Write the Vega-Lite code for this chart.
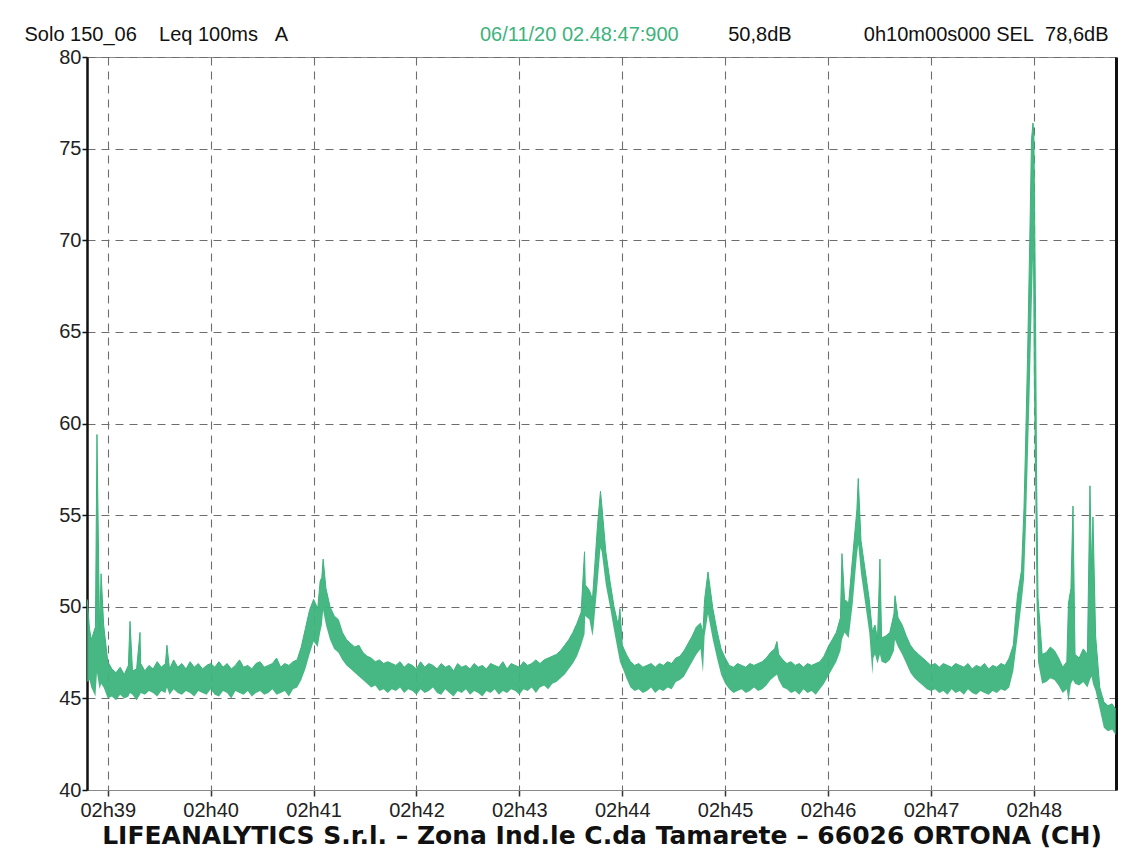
{
  "$schema": "https://vega.github.io/schema/vega-lite/v6.json",
  "width": 1029,
  "height": 733,
  "autosize": {"type": "none"},
  "padding": {"left": 87, "top": 57, "right": 5, "bottom": 64},
  "background": "white",
  "config": {"font": "Liberation Sans", "view": {"stroke": "#8a8a8a", "strokeWidth": 1}},
  "title": {
    "text": "06/11/20 02.48:47:900",
    "anchor": "start",
    "frame": "group",
    "dx": 393,
    "dy": 27,
    "offset": 6,
    "font": "Liberation Sans",
    "fontSize": 20,
    "fontWeight": "normal",
    "color": "#3db37d"
  },
  "data": {"values": [
    {"t":38.800,"lo":45.9,"hi":50.4},{"t":38.822,"lo":46.0,"hi":48.8},{"t":38.840,"lo":45.6,"hi":48.2},{"t":38.880,"lo":45.1,"hi":48.9},
    {"t":38.895,"lo":46.4,"hi":59.4},{"t":38.920,"lo":45.5,"hi":48.6},{"t":38.935,"lo":45.8,"hi":51.8},{"t":38.960,"lo":45.6,"hi":49.0},
    {"t":39.000,"lo":45.0,"hi":47.0},{"t":39.040,"lo":45.1,"hi":46.6},{"t":39.080,"lo":44.9,"hi":46.4},{"t":39.120,"lo":45.2,"hi":46.7},
    {"t":39.160,"lo":45.0,"hi":46.3},{"t":39.200,"lo":45.1,"hi":46.8},{"t":39.216,"lo":45.3,"hi":49.2},{"t":39.240,"lo":45.2,"hi":46.5},
    {"t":39.280,"lo":44.9,"hi":46.6},{"t":39.313,"lo":45.2,"hi":48.6},{"t":39.320,"lo":45.3,"hi":46.9},{"t":39.360,"lo":45.2,"hi":46.5},
    {"t":39.400,"lo":45.4,"hi":46.8},{"t":39.440,"lo":45.3,"hi":46.6},{"t":39.480,"lo":45.1,"hi":47.0},{"t":39.520,"lo":45.4,"hi":46.7},
    {"t":39.560,"lo":45.3,"hi":46.9},{"t":39.575,"lo":45.6,"hi":47.9},{"t":39.600,"lo":45.2,"hi":46.6},{"t":39.640,"lo":45.5,"hi":47.1},
    {"t":39.680,"lo":45.3,"hi":46.7},{"t":39.720,"lo":45.2,"hi":46.9},{"t":39.760,"lo":45.4,"hi":46.6},{"t":39.800,"lo":45.3,"hi":47.0},
    {"t":39.840,"lo":45.1,"hi":46.7},{"t":39.880,"lo":45.4,"hi":46.9},{"t":39.920,"lo":45.3,"hi":46.6},{"t":39.960,"lo":45.2,"hi":46.8},
    {"t":40.000,"lo":45.5,"hi":46.9},{"t":40.040,"lo":45.2,"hi":46.7},{"t":40.080,"lo":45.1,"hi":47.0},{"t":40.120,"lo":45.4,"hi":46.7},
    {"t":40.160,"lo":45.3,"hi":46.9},{"t":40.200,"lo":45.0,"hi":46.6},{"t":40.240,"lo":45.4,"hi":46.8},{"t":40.280,"lo":45.3,"hi":47.1},
    {"t":40.320,"lo":45.2,"hi":46.7},{"t":40.360,"lo":45.4,"hi":46.8},{"t":40.400,"lo":45.1,"hi":46.6},{"t":40.440,"lo":45.3,"hi":46.9},
    {"t":40.480,"lo":45.4,"hi":47.0},{"t":40.520,"lo":45.2,"hi":46.7},{"t":40.560,"lo":45.3,"hi":46.8},{"t":40.600,"lo":45.5,"hi":46.9},
    {"t":40.640,"lo":45.2,"hi":47.2},{"t":40.680,"lo":45.3,"hi":46.7},{"t":40.720,"lo":45.4,"hi":46.9},{"t":40.760,"lo":45.1,"hi":46.8},
    {"t":40.800,"lo":45.5,"hi":47.0},{"t":40.840,"lo":45.6,"hi":47.1},{"t":40.880,"lo":46.0,"hi":47.8},{"t":40.920,"lo":46.6,"hi":48.8},
    {"t":40.960,"lo":47.4,"hi":49.8},{"t":41.000,"lo":48.1,"hi":50.4},{"t":41.040,"lo":47.8,"hi":49.9},{"t":41.064,"lo":48.6,"hi":51.4},
    {"t":41.080,"lo":49.0,"hi":51.6},{"t":41.093,"lo":49.8,"hi":52.6},{"t":41.120,"lo":49.0,"hi":51.0},{"t":41.160,"lo":48.2,"hi":50.0},
    {"t":41.200,"lo":47.7,"hi":49.5},{"t":41.240,"lo":47.5,"hi":49.3},{"t":41.280,"lo":47.1,"hi":48.6},{"t":41.320,"lo":46.8,"hi":48.2},
    {"t":41.360,"lo":46.6,"hi":48.0},{"t":41.400,"lo":46.4,"hi":47.8},{"t":41.440,"lo":46.2,"hi":47.9},{"t":41.480,"lo":46.0,"hi":47.5},
    {"t":41.520,"lo":45.8,"hi":47.3},{"t":41.560,"lo":45.6,"hi":47.2},{"t":41.600,"lo":45.7,"hi":47.0},{"t":41.640,"lo":45.4,"hi":47.1},
    {"t":41.680,"lo":45.5,"hi":46.9},{"t":41.720,"lo":45.3,"hi":47.0},{"t":41.760,"lo":45.5,"hi":46.9},{"t":41.800,"lo":45.4,"hi":46.8},
    {"t":41.840,"lo":45.6,"hi":47.0},{"t":41.880,"lo":45.3,"hi":46.7},{"t":41.920,"lo":45.5,"hi":46.9},{"t":41.960,"lo":45.4,"hi":46.8},
    {"t":42.000,"lo":45.2,"hi":46.6},{"t":42.040,"lo":45.5,"hi":47.0},{"t":42.080,"lo":45.3,"hi":46.7},{"t":42.120,"lo":45.4,"hi":46.9},
    {"t":42.160,"lo":45.6,"hi":46.8},{"t":42.200,"lo":45.3,"hi":46.6},{"t":42.240,"lo":45.2,"hi":46.9},{"t":42.280,"lo":45.5,"hi":46.7},
    {"t":42.320,"lo":45.3,"hi":46.8},{"t":42.360,"lo":45.1,"hi":46.5},{"t":42.400,"lo":45.4,"hi":46.9},{"t":42.440,"lo":45.3,"hi":46.7},
    {"t":42.480,"lo":45.5,"hi":46.8},{"t":42.520,"lo":45.2,"hi":46.6},{"t":42.560,"lo":45.4,"hi":46.9},{"t":42.600,"lo":45.3,"hi":46.7},
    {"t":42.640,"lo":45.1,"hi":46.8},{"t":42.680,"lo":45.4,"hi":46.6},{"t":42.720,"lo":45.3,"hi":46.9},{"t":42.760,"lo":45.5,"hi":46.8},
    {"t":42.800,"lo":45.2,"hi":46.7},{"t":42.840,"lo":45.4,"hi":47.0},{"t":42.880,"lo":45.3,"hi":46.6},{"t":42.920,"lo":45.5,"hi":46.9},
    {"t":42.960,"lo":45.4,"hi":46.8},{"t":43.000,"lo":45.2,"hi":46.7},{"t":43.040,"lo":45.5,"hi":47.0},{"t":43.080,"lo":45.4,"hi":46.8},
    {"t":43.120,"lo":45.6,"hi":46.9},{"t":43.160,"lo":45.3,"hi":47.1},{"t":43.200,"lo":45.6,"hi":46.9},{"t":43.240,"lo":45.7,"hi":47.1},
    {"t":43.280,"lo":45.5,"hi":47.2},{"t":43.320,"lo":45.8,"hi":47.3},{"t":43.360,"lo":45.9,"hi":47.4},{"t":43.400,"lo":46.1,"hi":47.6},
    {"t":43.440,"lo":46.3,"hi":47.9},{"t":43.480,"lo":46.6,"hi":48.2},{"t":43.520,"lo":46.9,"hi":48.6},{"t":43.560,"lo":47.3,"hi":49.1},
    {"t":43.600,"lo":47.9,"hi":49.7},{"t":43.633,"lo":48.5,"hi":53.0},{"t":43.640,"lo":49.5,"hi":51.2},{"t":43.680,"lo":49.3,"hi":50.9},
    {"t":43.710,"lo":48.4,"hi":50.4},{"t":43.720,"lo":48.8,"hi":51.2},{"t":43.760,"lo":51.3,"hi":54.5},{"t":43.788,"lo":53.2,"hi":56.3},
    {"t":43.800,"lo":53.0,"hi":55.6},{"t":43.840,"lo":51.2,"hi":53.0},{"t":43.880,"lo":50.0,"hi":51.4},{"t":43.920,"lo":48.7,"hi":50.0},
    {"t":43.960,"lo":47.5,"hi":49.0},{"t":43.977,"lo":47.0,"hi":49.9},{"t":44.000,"lo":46.7,"hi":47.9},{"t":44.040,"lo":46.1,"hi":47.4},
    {"t":44.080,"lo":45.6,"hi":47.0},{"t":44.120,"lo":45.4,"hi":46.8},{"t":44.160,"lo":45.5,"hi":46.9},{"t":44.200,"lo":45.3,"hi":46.7},
    {"t":44.240,"lo":45.4,"hi":46.8},{"t":44.280,"lo":45.6,"hi":46.9},{"t":44.320,"lo":45.3,"hi":46.7},{"t":44.360,"lo":45.5,"hi":46.9},
    {"t":44.400,"lo":45.4,"hi":46.8},{"t":44.440,"lo":45.6,"hi":47.0},{"t":44.480,"lo":45.5,"hi":46.9},{"t":44.520,"lo":45.9,"hi":47.2},
    {"t":44.560,"lo":46.0,"hi":47.3},{"t":44.600,"lo":46.2,"hi":47.6},{"t":44.640,"lo":46.6,"hi":48.0},{"t":44.680,"lo":47.0,"hi":48.4},
    {"t":44.720,"lo":47.4,"hi":48.9},{"t":44.760,"lo":47.7,"hi":49.1},{"t":44.784,"lo":46.4,"hi":48.6},{"t":44.800,"lo":48.4,"hi":50.4},
    {"t":44.833,"lo":49.6,"hi":51.9},{"t":44.840,"lo":49.4,"hi":51.6},{"t":44.880,"lo":48.2,"hi":49.9},{"t":44.920,"lo":47.2,"hi":48.7},
    {"t":44.960,"lo":46.3,"hi":47.7},{"t":45.000,"lo":45.8,"hi":47.2},{"t":45.040,"lo":45.5,"hi":46.8},{"t":45.080,"lo":45.3,"hi":46.7},
    {"t":45.120,"lo":45.4,"hi":46.9},{"t":45.160,"lo":45.5,"hi":46.8},{"t":45.200,"lo":45.3,"hi":46.7},{"t":45.240,"lo":45.4,"hi":46.9},
    {"t":45.280,"lo":45.6,"hi":46.8},{"t":45.320,"lo":45.4,"hi":46.9},{"t":45.360,"lo":45.5,"hi":47.0},{"t":45.400,"lo":45.7,"hi":47.2},
    {"t":45.440,"lo":46.0,"hi":47.5},{"t":45.480,"lo":46.2,"hi":47.7},{"t":45.503,"lo":46.3,"hi":48.1},{"t":45.520,"lo":46.0,"hi":47.4},
    {"t":45.560,"lo":45.6,"hi":47.1},{"t":45.600,"lo":45.5,"hi":46.9},{"t":45.640,"lo":45.3,"hi":47.0},{"t":45.680,"lo":45.4,"hi":46.8},
    {"t":45.720,"lo":45.2,"hi":46.9},{"t":45.760,"lo":45.5,"hi":46.7},{"t":45.800,"lo":45.3,"hi":46.9},{"t":45.840,"lo":45.4,"hi":46.8},
    {"t":45.880,"lo":45.2,"hi":46.9},{"t":45.920,"lo":45.5,"hi":47.0},{"t":45.960,"lo":45.8,"hi":47.3},{"t":46.000,"lo":46.2,"hi":47.8},
    {"t":46.040,"lo":46.6,"hi":48.2},{"t":46.080,"lo":47.0,"hi":48.6},{"t":46.120,"lo":47.6,"hi":49.4},{"t":46.135,"lo":48.2,"hi":52.9},
    {"t":46.160,"lo":48.6,"hi":50.4},{"t":46.200,"lo":48.3,"hi":50.2},{"t":46.240,"lo":50.2,"hi":52.8},{"t":46.280,"lo":52.8,"hi":55.3},
    {"t":46.293,"lo":53.4,"hi":57.0},{"t":46.320,"lo":51.8,"hi":53.6},{"t":46.360,"lo":50.2,"hi":52.0},{"t":46.400,"lo":48.6,"hi":50.4},
    {"t":46.431,"lo":46.3,"hi":48.6},{"t":46.440,"lo":47.2,"hi":48.8},{"t":46.456,"lo":47.4,"hi":49.0},{"t":46.480,"lo":46.9,"hi":48.2},
    {"t":46.504,"lo":47.4,"hi":52.6},{"t":46.520,"lo":47.0,"hi":48.3},{"t":46.560,"lo":46.9,"hi":48.4},{"t":46.600,"lo":47.1,"hi":48.6},
    {"t":46.640,"lo":47.6,"hi":49.6},{"t":46.650,"lo":48.2,"hi":50.6},{"t":46.680,"lo":47.8,"hi":49.4},{"t":46.720,"lo":47.4,"hi":49.0},
    {"t":46.760,"lo":46.9,"hi":48.4},{"t":46.800,"lo":46.4,"hi":47.9},{"t":46.840,"lo":46.1,"hi":47.6},{"t":46.880,"lo":45.9,"hi":47.4},
    {"t":46.920,"lo":45.7,"hi":47.2},{"t":46.960,"lo":45.5,"hi":47.0},{"t":47.000,"lo":45.4,"hi":46.8},{"t":47.040,"lo":45.5,"hi":46.9},
    {"t":47.080,"lo":45.3,"hi":46.7},{"t":47.120,"lo":45.4,"hi":46.9},{"t":47.160,"lo":45.2,"hi":46.8},{"t":47.200,"lo":45.5,"hi":46.7},
    {"t":47.240,"lo":45.3,"hi":46.9},{"t":47.280,"lo":45.4,"hi":46.8},{"t":47.320,"lo":45.2,"hi":46.7},{"t":47.360,"lo":45.5,"hi":46.9},
    {"t":47.400,"lo":45.3,"hi":46.6},{"t":47.440,"lo":45.2,"hi":46.8},{"t":47.480,"lo":45.4,"hi":46.7},{"t":47.520,"lo":45.3,"hi":46.9},
    {"t":47.560,"lo":45.2,"hi":46.6},{"t":47.600,"lo":45.4,"hi":46.8},{"t":47.640,"lo":45.3,"hi":46.7},{"t":47.680,"lo":45.5,"hi":46.9},
    {"t":47.720,"lo":45.4,"hi":46.8},{"t":47.760,"lo":45.6,"hi":47.2},{"t":47.800,"lo":46.5,"hi":47.9},{"t":47.840,"lo":48.3,"hi":50.6},
    {"t":47.880,"lo":50.2,"hi":52.0},{"t":47.904,"lo":51.5,"hi":55.4},{"t":47.920,"lo":54.0,"hi":59.0},{"t":47.938,"lo":57.5,"hi":63.5},
    {"t":47.960,"lo":62.0,"hi":70.0},{"t":47.977,"lo":66.0,"hi":75.5},{"t":47.991,"lo":69.0,"hi":76.4},{"t":48.000,"lo":62.0,"hi":75.8},
    {"t":48.016,"lo":55.0,"hi":66.0},{"t":48.025,"lo":50.5,"hi":57.8},{"t":48.040,"lo":47.0,"hi":50.5},{"t":48.080,"lo":45.8,"hi":47.4},
    {"t":48.120,"lo":45.9,"hi":47.5},{"t":48.160,"lo":46.1,"hi":47.8},{"t":48.200,"lo":46.0,"hi":47.6},{"t":48.240,"lo":45.7,"hi":47.2},
    {"t":48.280,"lo":45.3,"hi":46.7},{"t":48.320,"lo":45.5,"hi":47.0},{"t":48.336,"lo":44.8,"hi":50.2},{"t":48.360,"lo":45.8,"hi":51.0},
    {"t":48.380,"lo":46.0,"hi":55.5},{"t":48.400,"lo":45.8,"hi":47.4},{"t":48.440,"lo":45.7,"hi":47.2},{"t":48.480,"lo":45.9,"hi":47.7},
    {"t":48.520,"lo":45.6,"hi":47.4},{"t":48.545,"lo":46.0,"hi":56.6},{"t":48.560,"lo":46.2,"hi":52.0},{"t":48.574,"lo":45.8,"hi":54.9},
    {"t":48.600,"lo":45.4,"hi":48.4},{"t":48.640,"lo":44.4,"hi":45.6},{"t":48.680,"lo":43.4,"hi":44.8},{"t":48.720,"lo":43.2,"hi":44.6},
    {"t":48.760,"lo":43.3,"hi":44.7},{"t":48.795,"lo":43.0,"hi":44.4}
  ]},
  "encoding": {
    "x": {
      "field": "t",
      "type": "quantitative",
      "scale": {"domain": [38.798, 48.798], "nice": false, "zero": false},
      "axis": {
        "values": [39, 40, 41, 42, 43, 44, 45, 46, 47, 48],
        "labelExpr": "'02h' + datum.value",
        "labelFont": "Liberation Sans",
        "labelFontSize": 20,
        "labelColor": "#222222",
        "labelPadding": 4,
        "labelOverlap": false,
        "labelFlush": false,
        "tickSize": 6,
        "tickColor": "#333333",
        "tickWidth": 1.5,
        "domainColor": "#8a8a8a",
        "domainWidth": 1,
        "grid": true,
        "gridColor": "#6e6e6e",
        "gridDash": [8, 6],
        "gridWidth": 1.1,
        "title": "LIFEANALYTICS S.r.l. – Zona Ind.le C.da Tamarete – 66026 ORTONA (CH)",
        "titleFont": "DejaVu Sans",
        "titleFontSize": 25,
        "titleFontWeight": "bold",
        "titleColor": "#111111",
        "titleBaseline": "alphabetic",
        "titleAnchor": "middle",
        "titleY": 53
      }
    }
  },
  "layer": [
    {
      "mark": {"type": "area", "color": "#3db37d", "opacity": 0.95, "clip": true},
      "encoding": {
        "y": {
          "field": "lo",
          "type": "quantitative",
          "scale": {"domain": [40, 80], "nice": false, "zero": false},
          "axis": {
            "values": [40, 45, 50, 55, 60, 65, 70, 75, 80],
            "title": "Solo 150_06\u00a0\u00a0\u00a0\u00a0Leq 100ms\u00a0\u00a0\u00a0A",
            "titleAngle": 0,
            "titleAlign": "left",
            "titleBaseline": "alphabetic",
            "titleX": -63,
            "titleY": -17,
            "titleFont": "Liberation Sans",
            "titleFontSize": 20,
            "titleFontWeight": "normal",
            "titleColor": "#111111",
            "labelFont": "Liberation Sans",
            "labelFontSize": 20,
            "labelColor": "#222222",
            "labelPadding": 1,
            "tickSize": 5,
            "tickColor": "#111111",
            "tickWidth": 1.5,
            "domainColor": "#111111",
            "domainWidth": 2.5,
            "grid": true,
            "gridColor": "#6e6e6e",
            "gridDash": [8, 6],
            "gridWidth": 1.1
          }
        },
        "y2": {"field": "hi"}
      }
    },
    {
      "mark": {"type": "line", "color": "#3db37d", "strokeWidth": 1, "clip": true},
      "encoding": {
        "y": {
          "field": "hi",
          "type": "quantitative",
          "axis": {
            "orient": "right",
            "labels": false,
            "ticks": false,
            "grid": false,
            "domainColor": "#111111",
            "domainWidth": 3,
            "title": "50,8dB\u00a0\u00a0\u00a0\u00a0\u00a0\u00a0\u00a0\u00a0\u00a0\u00a0\u00a0\u00a0\u00a00h10m00s000\u00a0SEL\u00a0\u00a078,6dB",
            "titleAngle": 0,
            "titleAlign": "right",
            "titleBaseline": "alphabetic",
            "titleX": -8,
            "titleY": -17,
            "titleFont": "Liberation Sans",
            "titleFontSize": 20,
            "titleFontWeight": "normal",
            "titleColor": "#111111"
          }
        }
      }
    }
  ],
  "resolve": {"axis": {"y": "independent"}}
}
